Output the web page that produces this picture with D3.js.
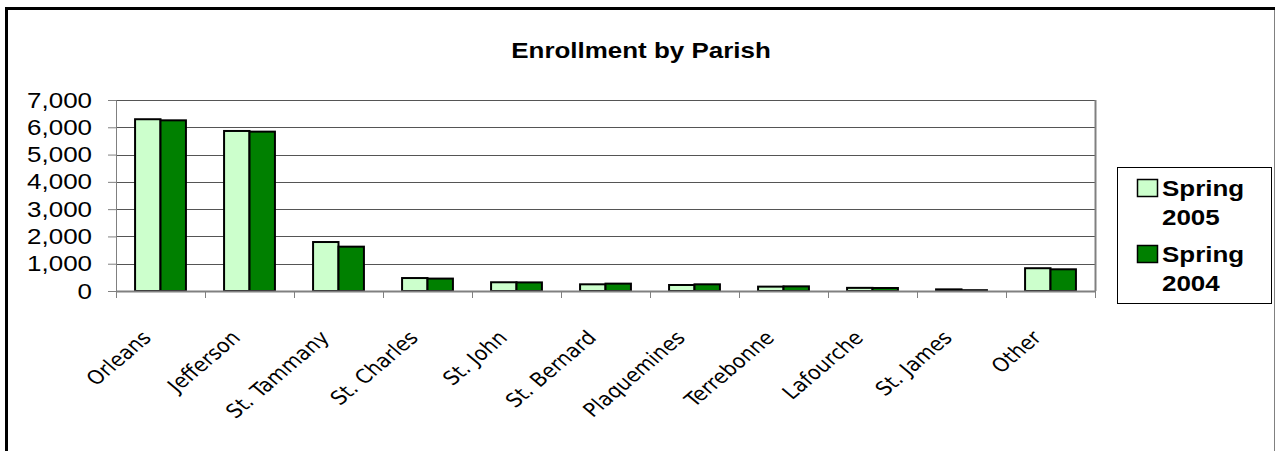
<!DOCTYPE html>
<html>
<head>
<meta charset="utf-8">
<script src="https://cdn.jsdelivr.net/npm/d3@7"></script>
<style>
  html, body { margin: 0; padding: 0; background: #fff; }
  svg { display: block; }
</style>
</head>
<body>
<script>
// data
var parishes = ["Orleans", "Jefferson", "St. Tammany", "St. Charles", "St. John", "St. Bernard",
  "Plaquemines", "Terrebonne", "Lafourche", "St. James", "Other"];
var spring2005 = [6295, 5865, 1795, 475, 320, 245, 220, 160, 115, 60, 835];
var spring2004 = [6255, 5840, 1625, 455, 315, 270, 245, 170, 110, 30, 795];
var yTicks = [0, 1000, 2000, 3000, 4000, 5000, 6000, 7000];
var seriesNames = [["Spring", "2005"], ["Spring", "2004"]];
var seriesColors = ["#CCFFCC", "#008000"];

window.onload = () => {
  var W = 1275, H = 451;
  var sx = 1.18; // the original picture is stretched sideways
  var plot = { left: 116, right: 1095, top: 100, bottom: 291 };

  var svg = d3.select("body").append("svg")
    .attr("width", W)
    .attr("height", H);

  // outer chart frame
  svg.append("line").attr("x1", 6.5).attr("x2", 6.5).attr("y1", 7).attr("y2", H)
    .attr("stroke", "#000").attr("stroke-width", 3);
  svg.append("line").attr("x1", 5).attr("x2", W).attr("y1", 8.5).attr("y2", 8.5)
    .attr("stroke", "#000").attr("stroke-width", 3);
  svg.append("line").attr("x1", 1274.5).attr("x2", 1274.5).attr("y1", 10).attr("y2", H)
    .attr("stroke", "#808080").attr("stroke-width", 1);

  // title
  svg.append("text")
    .attr("transform", "translate(641,58) scale(" + sx + ",1)")
    .attr("text-anchor", "middle")
    .style("font-family", "'Liberation Sans', Arial, sans-serif")
    .style("font-weight", "bold")
    .style("font-size", "22px")
    .text("Enrollment by Parish");

  // scales
  var x = d3.scaleBand().domain(parishes).range([plot.left, plot.right]).padding(0);
  var xi = d3.scaleLinear().domain([0, parishes.length]).range([plot.left, plot.right]);
  var y = d3.scaleLinear().domain([0, 7000]).range([plot.bottom, plot.top]);
  var bw = x.bandwidth();
  var barW = bw / 3.5;

  // gridlines
  var grid = svg.append("g")
    .attr("transform", "translate(" + plot.left + ",0)")
    .call(d3.axisLeft(y).tickValues(yTicks).tickSize(-(plot.right - plot.left)).tickFormat(""));
  grid.select(".domain").remove();
  grid.selectAll("line").attr("stroke", "#555").attr("shape-rendering", "crispEdges");

  // plot area right border
  svg.append("line")
    .attr("x1", plot.right + 0.5).attr("x2", plot.right + 0.5)
    .attr("y1", plot.top).attr("y2", plot.bottom)
    .attr("stroke", "#808080").attr("stroke-width", 2);

  // bars
  var series = [spring2005, spring2004];
  series.forEach(function (vals, s) {
    svg.append("g").selectAll("rect")
      .data(parishes)
      .enter().append("rect")
      .attr("x", function (d) { return x(d) + bw / 2 - barW + s * barW; })
      .attr("y", function (d, i) { return y(vals[i]); })
      .attr("width", barW)
      .attr("height", function (d, i) { return y(0) - y(vals[i]); })
      .attr("fill", seriesColors[s])
      .attr("stroke", "#000")
      .attr("stroke-width", 2);
  });

  // y axis
  var yAxis = svg.append("g")
    .attr("transform", "translate(" + plot.left + ",0)")
    .call(d3.axisLeft(y).tickValues(yTicks).tickSize(8).tickFormat(d3.format(",")));
  yAxis.select(".domain").attr("stroke", "#808080");
  yAxis.selectAll("line").attr("stroke", "#808080");
  yAxis.selectAll("text")
    .attr("x", -24 / sx)
    .attr("transform", "scale(" + sx + ",1)")
    .attr("fill", "#000")
    .style("font-family", "'Liberation Sans', Arial, sans-serif")
    .style("font-size", "22px");

  // x axis with ticks between categories
  var xAxis = svg.append("g")
    .attr("transform", "translate(0," + plot.bottom + ")")
    .call(d3.axisBottom(xi).tickValues(d3.range(parishes.length + 1)).tickSize(7).tickFormat("").tickSizeOuter(0));
  xAxis.select(".domain").attr("stroke", "#808080").attr("stroke-width", 2);
  xAxis.selectAll("line").attr("stroke", "#808080");

  // rotated category labels
  svg.append("g").selectAll("text")
    .data(parishes)
    .enter().append("text")
    .attr("transform", function (d) {
      return "translate(" + (x(d) + bw / 2 - 8) + ",339) scale(" + sx + ",1) rotate(-45)";
    })
    .attr("text-anchor", "end")
    .style("font-family", "'DejaVu Sans Condensed', 'DejaVu Sans', sans-serif")
    .style("font-stretch", "condensed")
    .style("font-size", "19.5px")
    .text(function (d) { return d; });

  // legend
  var legend = svg.append("g");
  legend.append("rect")
    .attr("x", 1117.5).attr("y", 167.5).attr("width", 154).attr("height", 136)
    .attr("fill", "#fff").attr("stroke", "#000").attr("stroke-width", 1);
  var itemTop = [179, 245];
  seriesNames.forEach(function (lines, s) {
    legend.append("rect")
      .attr("x", 1137.5).attr("y", itemTop[s] + 0.5).attr("width", 20).attr("height", 17)
      .attr("fill", seriesColors[s]).attr("stroke", "#000").attr("stroke-width", 1.5);
    lines.forEach(function (t, j) {
      legend.append("text")
        .attr("transform", "translate(1162," + (itemTop[s] + 17 + j * 29) + ") scale(" + sx + ",1)")
        .style("font-family", "'Liberation Sans', Arial, sans-serif")
        .style("font-weight", "bold")
        .style("font-size", "22px")
        .text(t);
    });
  });
};
</script>
</body>
</html>
